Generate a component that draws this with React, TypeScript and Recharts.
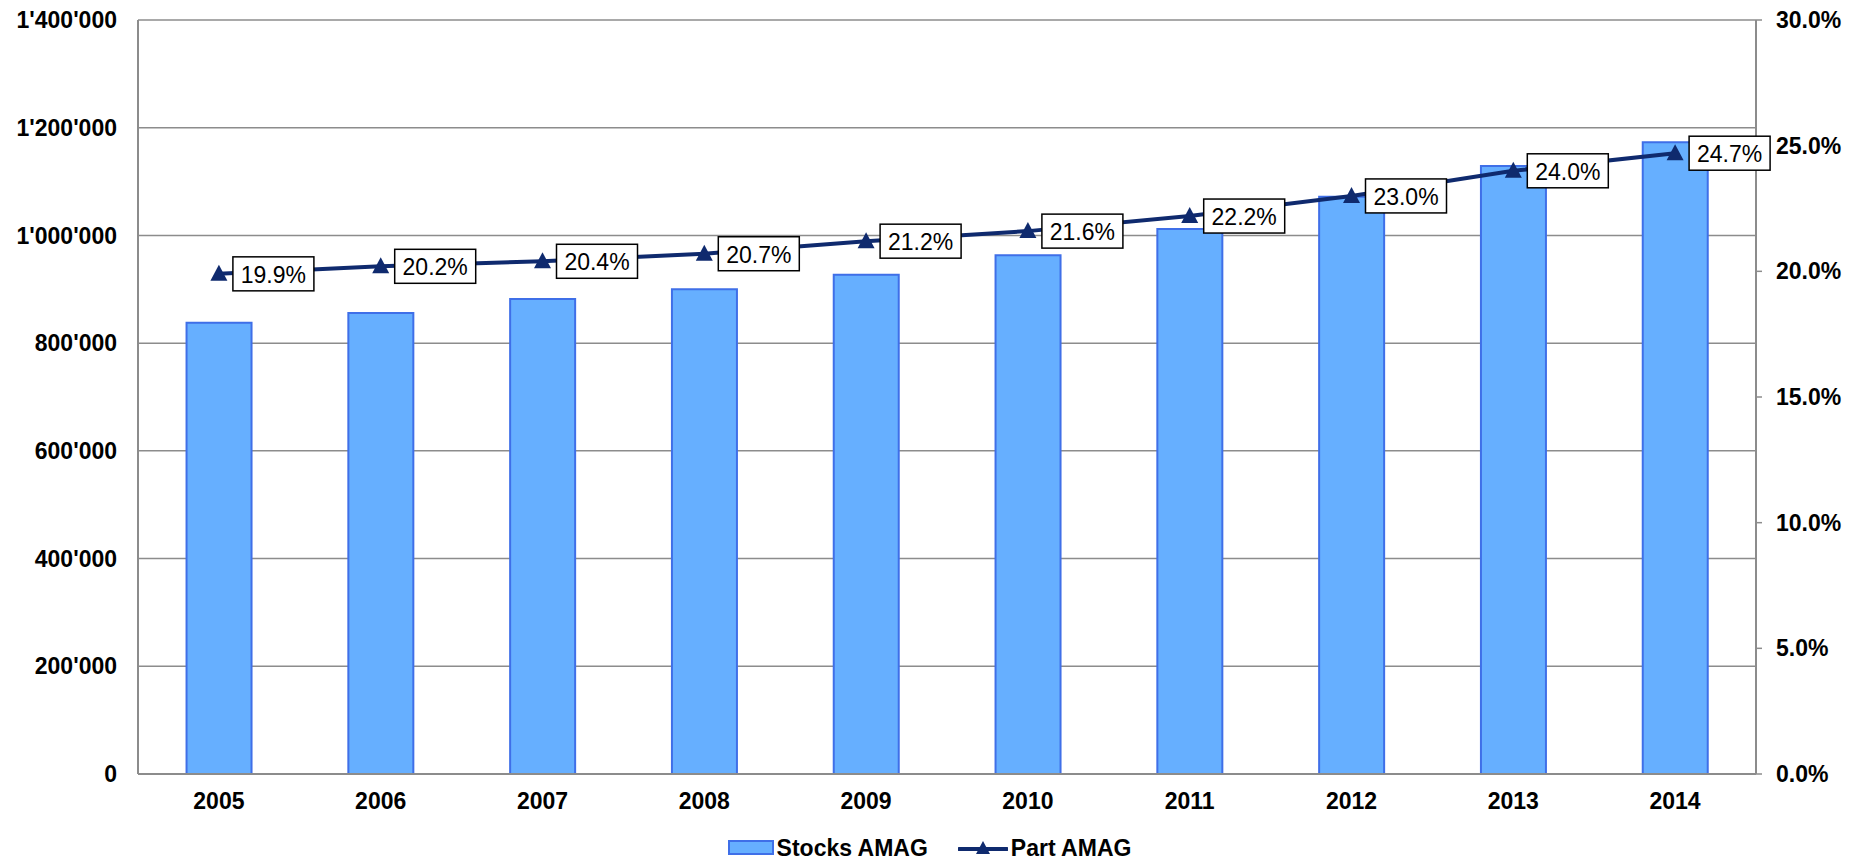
import React from 'react';
import {
  ComposedChart,
  Bar,
  Line,
  XAxis,
  YAxis,
  CartesianGrid,
  Legend,
  LabelList
} from 'recharts';

const years = ['2005', '2006', '2007', '2008', '2009', '2010', '2011', '2012', '2013', '2014'];
const stocksAmag = [838000, 856000, 882000, 900000, 927000, 963000, 1012000, 1072000, 1129000, 1173000];
const partAmag = [19.9, 20.2, 20.4, 20.7, 21.2, 21.6, 22.2, 23.0, 24.0, 24.7];

const leftTicks = [0, 200000, 400000, 600000, 800000, 1000000, 1200000, 1400000];
const rightTicks = [0, 5, 10, 15, 20, 25, 30];

const FONT = '"Liberation Sans", Arial, sans-serif';
const BAR_FILL = '#66AFFF';
const BAR_STROKE = '#3F6FE8';
const LINE_COLOR = '#0F2A6E';
const AXIS_GREY = '#8C8C8C';

const data = years.map((year, i) => ({
  year,
  stocks: stocksAmag[i],
  part: partAmag[i]
}));

// 1'400'000 style
const formatSwiss = (v: number) =>
  String(Math.round(v)).replace(/\B(?=(\d{3})+(?!\d))/g, "'");

const TriangleDot = (props: any) => {
  const { cx, cy } = props;
  if (cx == null || cy == null) return null;
  return (
    <polygon
      points={`${cx},${cy - 9} ${cx - 8.5},${cy + 7} ${cx + 8.5},${cy + 7}`}
      fill={LINE_COLOR}
    />
  );
};

const BoxLabel = (props: any) => {
  const { x, y, value } = props;
  if (x == null || y == null) return null;
  const w = 81;
  const h = 34;
  const left = x + 14;
  return (
    <g>
      <rect x={left} y={y - h / 2} width={w} height={h} fill="#fff" stroke="#000" strokeWidth={1.5} />
      <text
        x={left + w / 2}
        y={y + 1}
        textAnchor="middle"
        dominantBaseline="central"
        fontFamily={FONT}
        fontSize={23}
        fill="#000"
      >
        {`${Number(value).toFixed(1)}%`}
      </text>
    </g>
  );
};

const CustomLegend = () => (
  <div
    style={{
      height: 30,
      display: 'flex',
      justifyContent: 'center',
      alignItems: 'center',
      fontFamily: FONT,
      fontWeight: 'bold',
      fontSize: 23,
      color: '#000'
    }}
  >
    <svg width={46} height={16} style={{ marginRight: 3 }}>
      <rect x={1} y={1} width={44} height={13} fill={BAR_FILL} stroke={BAR_STROKE} strokeWidth={2} />
    </svg>
    <span>Stocks AMAG</span>
    <svg width={50} height={20} style={{ marginLeft: 30, marginRight: 3 }}>
      <line x1={1} y1={11} x2={49} y2={11} stroke={LINE_COLOR} strokeWidth={4} strokeLinecap="round" />
      <polygon points="25,3 18,16 32,16" fill={LINE_COLOR} />
    </svg>
    <span>Part AMAG</span>
  </div>
);

const tickStyle = { fill: '#000', fontSize: 23, fontWeight: 'bold', fontFamily: FONT };

const App: React.FC = () => {
  return (
    <div style={{ position: 'absolute', left: 0, top: 0, background: '#fff' }}>
      <ComposedChart
        width={1859}
        height={863}
        data={data}
        margin={{ top: 20, right: 0, left: 0, bottom: 0 }}
        barCategoryGap="30%"
      >
        <CartesianGrid
          yAxisId="left"
          vertical={false}
          stroke={AXIS_GREY}
          strokeWidth={1.5}
        />
        <XAxis
          dataKey="year"
          height={59}
          tickLine={false}
          tickSize={0}
          tickMargin={19}
          axisLine={{ stroke: AXIS_GREY, strokeWidth: 2 }}
          tick={tickStyle}
        />
        <YAxis
          yAxisId="left"
          orientation="left"
          width={138}
          domain={[0, 1400000]}
          ticks={leftTicks}
          tickFormatter={formatSwiss}
          tickLine={false}
          tickSize={0}
          tickMargin={21}
          axisLine={{ stroke: AXIS_GREY, strokeWidth: 2 }}
          tick={tickStyle}
        />
        <YAxis
          yAxisId="right"
          orientation="right"
          width={103}
          domain={[0, 30]}
          ticks={rightTicks}
          tickFormatter={(v: number) => `${v.toFixed(1)}%`}
          tickLine={{ stroke: AXIS_GREY, strokeWidth: 1.5 }}
          tickSize={6}
          tickMargin={14}
          axisLine={{ stroke: AXIS_GREY, strokeWidth: 2 }}
          tick={tickStyle}
        />
        <Legend verticalAlign="bottom" content={<CustomLegend />} />
        <Bar
          yAxisId="left"
          dataKey="stocks"
          name="Stocks AMAG"
          fill={BAR_FILL}
          stroke={BAR_STROKE}
          strokeWidth={2}
          isAnimationActive={false}
        />
        <Line
          yAxisId="right"
          dataKey="part"
          name="Part AMAG"
          type="linear"
          stroke={LINE_COLOR}
          strokeWidth={4}
          dot={<TriangleDot />}
          activeDot={false}
          isAnimationActive={false}
        >
          <LabelList dataKey="part" content={<BoxLabel />} />
        </Line>
      </ComposedChart>
    </div>
  );
};

export default App;
